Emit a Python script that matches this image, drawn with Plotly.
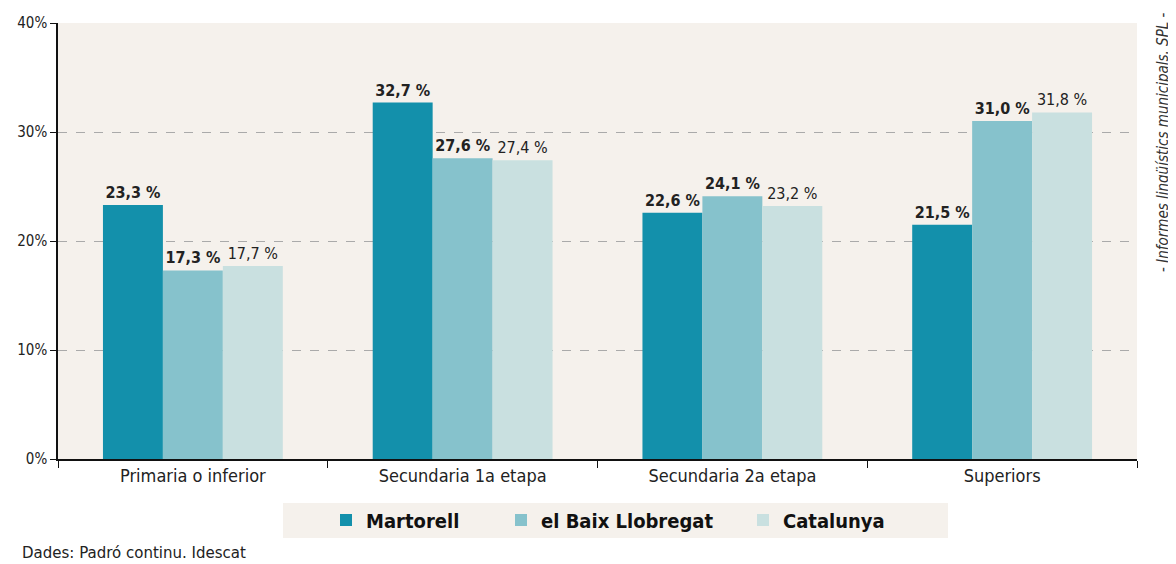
import plotly.graph_objects as go

categories = ["Primaria o inferior", "Secundaria 1a etapa", "Secundaria 2a etapa", "Superiors"]
series_names = ["Martorell", "el Baix Llobregat", "Catalunya"]
martorell = [23.3, 32.7, 22.6, 21.5]
baix = [17.3, 27.6, 24.1, 31.0]
catalunya = [17.7, 27.4, 23.2, 31.8]
y_ticks = [0, 10, 20, 30, 40]
y_ticklabels = ["0%", "10%", "20%", "30%", "40%"]

colors = ["#1390ab", "#86c2cc", "#c9e0e0"]
bold = [True, True, False]
FONT = "DejaVu Sans Condensed"
BG = "#f5f1ec"

# page is offset by 8px (body margin); work in figure pixel coordinates
OFF = 8
W, H = 1176 - OFF, 564 - OFF
PL, PR, PT, PB = 58 - OFF, 1137 - OFF, 23 - OFF, 459 - OFF

def fx(page_x):
    return (page_x - OFF - PL) / (PR - PL)

def fy(page_y):
    return (PB - (page_y - OFF)) / (PB - PT)

def fmt(v):
    return f"{v:.1f}".replace(".", ",") + " %"

fig = go.Figure()
legend_ids = ["legend", "legend2", "legend3"]
for name, vals, col, b, lg in zip(series_names, [martorell, baix, catalunya], colors, bold, legend_ids):
    texts = [("<b>%s</b>" % fmt(v)) if b else fmt(v) for v in vals]
    fig.add_trace(go.Bar(
        x=categories, y=vals, name="<b>%s</b>" % name, marker_color=col,
        marker_line_width=0,
        text=texts, textposition="outside", cliponaxis=False,
        textfont=dict(family=FONT, size=16, color="#222222"),
        legend=lg,
    ))

legend_common = dict(orientation="h", bgcolor="rgba(0,0,0,0)", font=dict(family=FONT, size=20, color="#111111"),
                     xref="paper", yref="paper", yanchor="middle", itemwidth=30, xanchor="left")
ly = fy(520)

fig.update_layout(
    width=W, height=H,
    margin=dict(l=PL, r=W - PR, t=PT, b=H - PB, autoexpand=False),
    paper_bgcolor="white", plot_bgcolor=BG,
    barmode="group", bargap=1/3, bargroupgap=0,
    font=dict(family=FONT, size=14, color="#222222"),
    showlegend=True,
    legend=dict(legend_common, x=fx(345 - 19), y=ly),
    legend2=dict(legend_common, x=fx(520 - 19), y=ly),
    legend3=dict(legend_common, x=fx(762 - 19), y=ly),
    xaxis=dict(showline=True, linecolor="#111111", linewidth=1.5, ticks="outside", tickson="boundaries",
               ticklen=7, tickcolor="#111111", tickfont=dict(family=FONT, size=18, color="#222222"),
               showgrid=False, automargin=False),
    yaxis=dict(range=[0, 40], tickvals=y_ticks, ticktext=y_ticklabels, showline=True, linecolor="#111111",
               linewidth=1.5, ticks="outside", ticklen=6, tickcolor="#111111",
               tickfont=dict(family=FONT, size=15, color="#222222"), automargin=False,
               showgrid=True, gridcolor="#aaaaaa", griddash="dash", gridwidth=1, zeroline=False),
    shapes=[dict(type="rect", xref="paper", yref="paper", x0=fx(283), x1=fx(948),
                 y0=fy(538), y1=fy(503),
                 fillcolor=BG, line_width=0, layer="below")],
    annotations=[
        dict(text="Dades: Padró continu. Idescat", xref="paper", yref="paper", x=fx(20), y=fy(553),
             xanchor="left", yanchor="middle", showarrow=False,
             font=dict(family="DejaVu Sans", size=15, color="#222222")),
        dict(text="- Informes lingüístics municipals. SPL -", xref="paper", yref="paper",
             x=fx(1163), y=fy(142), textangle=-90, xanchor="center", yanchor="middle",
             showarrow=False, font=dict(family=FONT, size=15, color="#333333", style="italic")),
    ],
)

fig.write_html("out.html")
